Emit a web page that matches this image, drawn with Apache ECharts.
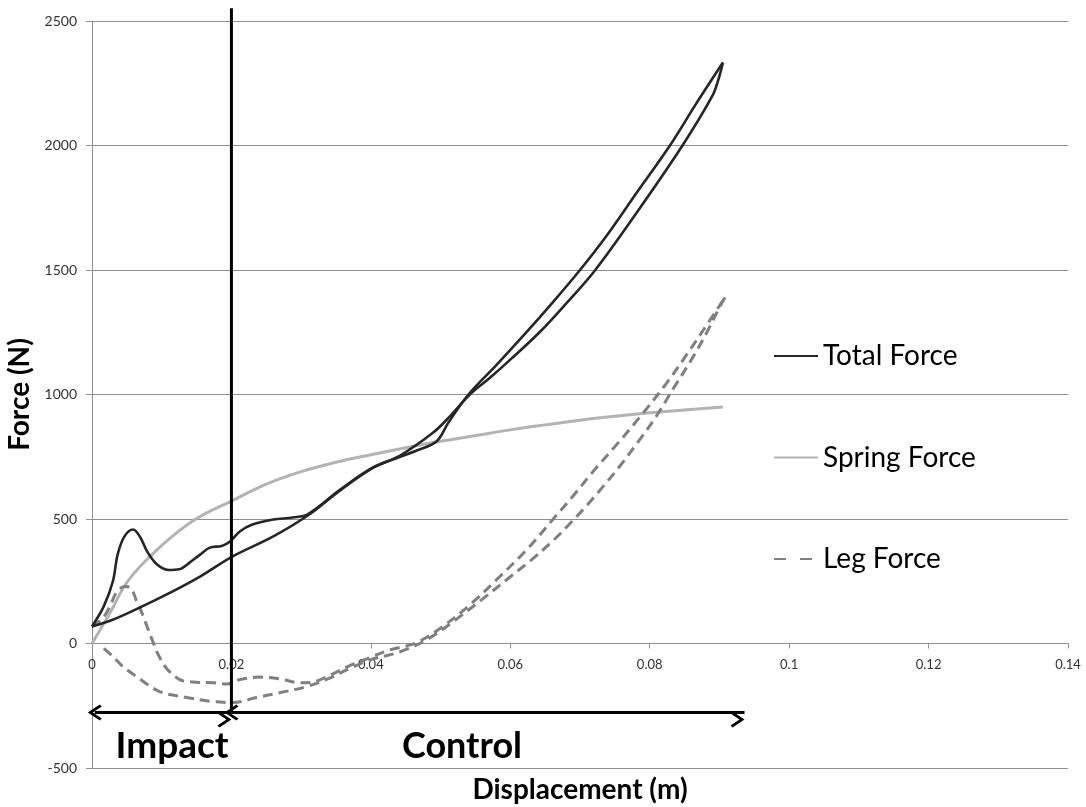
<!DOCTYPE html>
<html>
<head>
<meta charset="utf-8">
<script src="https://cdn.jsdelivr.net/npm/echarts@6/dist/echarts.min.js"></script>
<style>
  html, body { margin: 0; padding: 0; background: #fff; }
  #chart { width: 1086px; height: 807px; }
</style>
</head>
<body>
<div id="chart"></div>
<script>
// Total force loop: loading path (bumpy) then unloading path
const totalLoadX = [0, 0.0017, 0.003, 0.0037, 0.0047, 0.0059, 0.0069, 0.0079, 0.0093, 0.011, 0.0125, 0.014, 0.0155, 0.0169, 0.0186, 0.0198, 0.0212, 0.023, 0.026, 0.0288, 0.031, 0.0356, 0.0403, 0.0442, 0.0466, 0.0494, 0.0511, 0.054, 0.058, 0.062, 0.066, 0.07, 0.074, 0.078, 0.0829, 0.0866, 0.0905];
const totalLoadY = [68, 150, 250, 360, 432, 458, 428, 370, 318, 295, 298, 325, 357, 385, 392, 410, 450, 478, 498, 506, 520, 618, 707, 750, 775, 811, 886, 1000, 1118, 1240, 1367, 1500, 1645, 1805, 2000, 2165, 2333];
const totalUnloadX = [0.0905, 0.0899, 0.089, 0.0847, 0.0785, 0.0722, 0.068, 0.0642, 0.06, 0.057, 0.0542, 0.0513, 0.0489, 0.0442, 0.0403, 0.0356, 0.031, 0.026, 0.02, 0.0155, 0.01, 0.005, 0.0023, 0];
const totalUnloadY = [2333, 2270, 2200, 2000, 1745, 1500, 1365, 1250, 1140, 1065, 1000, 911, 846, 755, 705, 615, 515, 430, 347, 269, 187, 120, 88, 68];

// Spring force
const springX = [0, 0.0026, 0.005, 0.0083, 0.0122, 0.0155, 0.02, 0.025, 0.03, 0.035, 0.04, 0.045, 0.05, 0.055, 0.06, 0.065, 0.07, 0.075, 0.08, 0.085, 0.0905];
const springY = [0, 124, 245, 349, 446, 510, 572, 640, 690, 728, 758, 786, 812, 835, 858, 878, 897, 913, 927, 938, 950];

// Leg force loop
const legLoadX = [0, 0.0015, 0.0026, 0.0035, 0.0047, 0.0056, 0.0064, 0.0072, 0.0079, 0.0087, 0.0095, 0.0107, 0.0126, 0.0145, 0.0174, 0.0193, 0.0212, 0.024, 0.027, 0.0298, 0.0317, 0.0337, 0.0366, 0.0399, 0.0427, 0.0466, 0.0503, 0.0546, 0.0585, 0.0624, 0.0661, 0.069, 0.0718, 0.0753, 0.0786, 0.0824, 0.0853, 0.0876, 0.0908];
const legLoadY = [68, 100, 150, 205, 229, 222, 170, 120, 68, 10, -45, -100, -145, -155, -158, -163, -145, -135, -142, -158, -155, -133, -94, -56, -26, 4, 68, 165, 269, 378, 498, 592, 688, 800, 910, 1045, 1160, 1255, 1390];
const legUnloadX = [0.0908, 0.09, 0.0882, 0.0862, 0.0833, 0.081, 0.0786, 0.0757, 0.0733, 0.071, 0.0685, 0.0661, 0.063, 0.06, 0.056, 0.052, 0.048, 0.044, 0.04, 0.037, 0.034, 0.0308, 0.027, 0.0236, 0.0202, 0.0173, 0.0136, 0.0097, 0.0064, 0.0044, 0.003, 0.0015];
const legUnloadY = [1390, 1350, 1250, 1150, 1020, 915, 820, 712, 630, 555, 480, 412, 335, 268, 178, 92, 15, -35, -65, -100, -140, -173, -197, -217, -237, -233, -217, -193, -133, -92, -52, -15];

// Impact / control phase annotation
const boundaryLineX = [0.02, 0.02];
const boundaryLineY = [2551, -277];
const arrowY = -277;
const impactArrowX = [0.0004, 0.02];
const controlArrowX = [0.02, 0.0936];

const zip = (xs, ys) => xs.map((x, i) => [x, ys[i]]);

// open arrow head, tip pointing up in its own box
const chevron = "path://M8,0 L16,12 L14,14 L8,5 L2,14 L0,12 Z";
const font = "Lato";
const gridColor = "#8f8f8f";

const chart = echarts.init(document.getElementById("chart"));

const totalStyle = { color: "#262626", width: 2.6 };
const springStyle = { color: "#b3b3b3", width: 3 };
const legStyle = { color: "#808080", width: 3, type: [10, 6] };

chart.setOption({
  animation: false,
  backgroundColor: "#fff",
  grid: { left: 92, right: 18, top: 21, bottom: 39, containLabel: false, outerBoundsMode: "none" },
  legend: {
    orient: "vertical",
    left: 773,
    top: 342,
    padding: 0,
    itemWidth: 44,
    itemHeight: 14,
    itemGap: 73.5,
    itemStyle: { opacity: 0 },
    data: [
      { name: "Total Force" },
      { name: "Spring Force" },
      { name: "Leg Force", lineStyle: { type: [12, 14] } },
    ],
    textStyle: { fontFamily: font, fontSize: 28, lineHeight: 26, color: "#000" },
  },
  xAxis: {
    type: "value",
    min: 0,
    max: 0.14,
    interval: 0.02,
    // sit the axis on the zero line of the force axis
    offset: -124.5,
    name: "Displacement (m)",
    nameLocation: "middle",
    nameGap: 132,
    nameTextStyle: { fontFamily: font, fontSize: 28, fontWeight: "bold", color: "#000" },
    axisLine: { onZero: false, lineStyle: { color: gridColor } },
    axisTick: { show: true, length: 5, lineStyle: { color: gridColor } },
    axisLabel: { fontFamily: font, fontSize: 13, color: "#333", margin: 15, formatter: (v) => String(v) },
    splitLine: { show: false },
  },
  yAxis: {
    type: "value",
    min: -500,
    max: 2500,
    interval: 500,
    name: "Force (N)",
    nameLocation: "middle",
    nameGap: 56,
    nameTextStyle: { fontFamily: font, fontSize: 28, fontWeight: "bold", color: "#000" },
    axisLine: { show: true, onZero: false, lineStyle: { color: gridColor } },
    axisTick: { show: true, length: 6, lineStyle: { color: gridColor } },
    axisLabel: { fontFamily: font, fontSize: 14, color: "#333", margin: 15, formatter: (v) => String(v) },
    splitLine: { lineStyle: { color: gridColor } },
  },
  graphic: [
    { type: "text", x: 172, y: 746, style: { text: "Impact", font: "bold 37px Lato", fill: "#000", align: "center", verticalAlign: "middle" } },
    { type: "text", x: 462, y: 746, style: { text: "Control", font: "bold 36px Lato", fill: "#000", align: "center", verticalAlign: "middle" } },
  ],
  series: [
    {
      name: "Spring Force",
      type: "line",
      data: zip(springX, springY),
      smooth: 0.4,
      symbol: "none",
      lineStyle: springStyle,
      itemStyle: { color: springStyle.color },
      z: 2,
    },
    {
      name: "Leg Force",
      type: "line",
      data: zip(legLoadX, legLoadY),
      smooth: 0.35,
      symbol: "none",
      lineStyle: legStyle,
      itemStyle: { color: legStyle.color },
      z: 3,
    },
    {
      name: "Leg Force",
      type: "line",
      data: zip(legUnloadX, legUnloadY),
      smooth: 0.35,
      symbol: "none",
      lineStyle: legStyle,
      itemStyle: { color: legStyle.color },
      z: 3,
    },
    {
      name: "Total Force",
      type: "line",
      data: zip(totalLoadX, totalLoadY),
      smooth: 0.35,
      symbol: "none",
      lineStyle: totalStyle,
      itemStyle: { color: totalStyle.color },
      z: 4,
    },
    {
      name: "Total Force",
      type: "line",
      data: zip(totalUnloadX, totalUnloadY),
      smooth: 0.35,
      symbol: "none",
      lineStyle: totalStyle,
      itemStyle: { color: totalStyle.color },
      z: 4,
    },
    {
      name: "phase",
      type: "line",
      data: zip(boundaryLineX, boundaryLineY),
      clip: false,
      symbol: "none",
      silent: true,
      lineStyle: { color: "#000", width: 3 },
      z: 5,
      markLine: {
        silent: true,
        symbol: [chevron, chevron],
        symbolSize: [16, 14],
        symbolOffset: [0, 7],
        label: { show: false },
        lineStyle: { color: "#000", width: 3, type: "solid" },
        data: [
          [{ coord: [impactArrowX[0], arrowY] }, { coord: [impactArrowX[1], arrowY] }],
          [{ coord: [controlArrowX[0], arrowY] }, { coord: [controlArrowX[1], arrowY] }],
        ],
      },
    },
  ],
});
</script>
</body>
</html>
